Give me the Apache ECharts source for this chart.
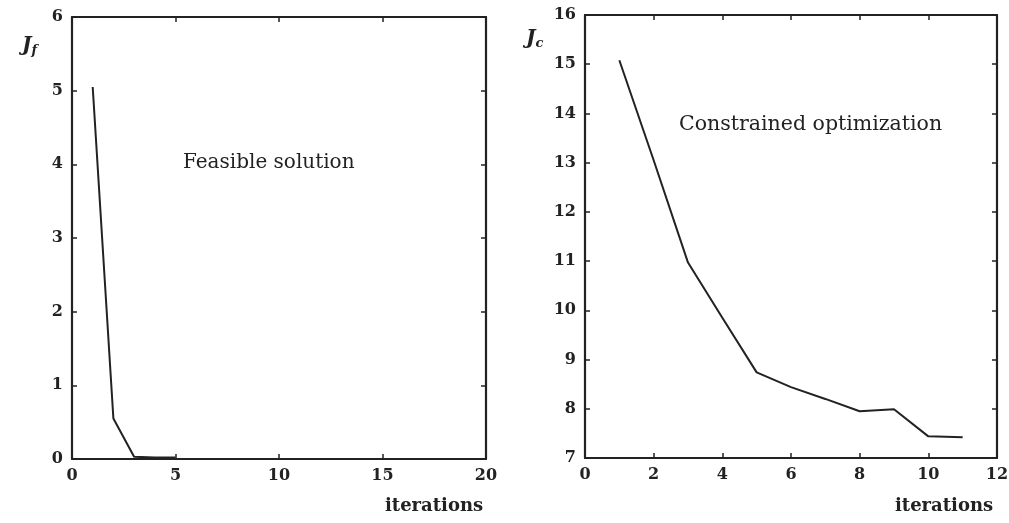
<!DOCTYPE html>
<html>
<head>
<meta charset="utf-8">
<script src="https://cdn.jsdelivr.net/npm/echarts@6/dist/echarts.min.js"></script>
<style>
  html, body { margin: 0; padding: 0; background: #fff; }
  #main { width: 1009px; height: 523px; }
</style>
</head>
<body>
<div id="main"></div>
<script>
/* global echarts */
// left panel: feasible solution cost J_f per iteration
const feasibleIter = [1, 2, 3, 4, 5];
const feasibleCost = [5.05, 0.55, 0.03, 0.02, 0.02];

// right panel: constrained optimization cost J_c per iteration
const constrIter = [1, 2, 3, 4, 5, 6, 7, 8, 9, 10, 11];
const constrCost = [15.08, 13.05, 10.97, 9.85, 8.74, 8.44, 8.2, 7.95, 7.99, 7.44, 7.42];

const leftXTicks = [0, 5, 10, 15, 20];
const leftYTicks = [0, 1, 2, 3, 4, 5, 6];
const rightXTicks = [0, 2, 4, 6, 8, 10, 12];
const rightYTicks = [7, 8, 9, 10, 11, 12, 13, 14, 15, 16];

const FONT = '"DejaVu Serif", "Liberation Serif", serif';
const INK = '#222';

function zip(xs, ys) {
    return xs.map((x, i) => [x, ys[i]]);
}

function make_axis(ticks, gridIndex, position, showLabels) {
    return {
        type: 'value',
        gridIndex: gridIndex,
        position: position,
        min: ticks[0],
        max: ticks[ticks.length - 1],
        interval: ticks[1] - ticks[0],
        axisLine: { show: true, onZero: false, lineStyle: { color: INK, width: 2.2 } },
        axisTick: { show: true, inside: true, length: 5, lineStyle: { color: INK, width: 1.5 } },
        axisLabel: {
            show: showLabels,
            color: INK,
            fontFamily: FONT,
            fontSize: 16,
            fontWeight: 'bold',
            margin: 9
        },
        splitLine: { show: false }
    };
}

function sub_label(main, sub) {
    return {
        text: '{j|' + main + '}{s|' + sub + '}',
        rich: {
            j: { fontFamily: FONT, fontStyle: 'italic', fontWeight: 'bold', fontSize: 20, fill: INK },
            s: { fontFamily: FONT, fontStyle: 'italic', fontWeight: 'bold', fontSize: 13, fill: INK, padding: [10, 0, 0, 0] }
        }
    };
}

const chart = echarts.init(document.getElementById('main'));

const option = {
    backgroundColor: '#fff',
    animation: false,
    grid: [
        { left: 72, top: 17, width: 414, height: 442, outerBoundsMode: 'none' },
        { left: 585, top: 15, width: 412, height: 443, outerBoundsMode: 'none' }
    ],
    xAxis: [
        make_axis(leftXTicks, 0, 'bottom', true),
        make_axis(leftXTicks, 0, 'top', false),
        make_axis(rightXTicks, 1, 'bottom', true),
        make_axis(rightXTicks, 1, 'top', false)
    ],
    yAxis: [
        make_axis(leftYTicks, 0, 'left', true),
        make_axis(leftYTicks, 0, 'right', false),
        make_axis(rightYTicks, 1, 'left', true),
        make_axis(rightYTicks, 1, 'right', false)
    ],
    series: [
        {
            name: 'J_f',
            type: 'line',
            xAxisIndex: 0,
            yAxisIndex: 0,
            data: zip(feasibleIter, feasibleCost),
            showSymbol: false,
            lineStyle: { color: INK, width: 2 }
        },
        {
            name: 'J_c',
            type: 'line',
            xAxisIndex: 2,
            yAxisIndex: 2,
            data: zip(constrIter, constrCost),
            showSymbol: false,
            lineStyle: { color: INK, width: 2 }
        }
    ],
    graphic: [
        { type: 'text', left: 22, top: 36, style: sub_label('J', 'f') },
        { type: 'text', left: 526, top: 29, style: sub_label('J', 'c') },
        {
            type: 'text', left: 183, top: 153,
            style: { text: 'Feasible solution', fontFamily: FONT, fontSize: 20, fontWeight: 500, fill: INK }
        },
        {
            type: 'text', left: 679, top: 114,
            style: { text: 'Constrained optimization', fontFamily: FONT, fontSize: 20.5, fontWeight: 500, fill: INK }
        },
        {
            type: 'text', left: 385, top: 497,
            style: { text: 'iterations', fontFamily: FONT, fontSize: 18, fontWeight: 'bold', fill: INK }
        },
        {
            type: 'text', left: 895, top: 497,
            style: { text: 'iterations', fontFamily: FONT, fontSize: 18, fontWeight: 'bold', fill: INK }
        }
    ]
};

chart.setOption(option);
</script>
</body>
</html>
